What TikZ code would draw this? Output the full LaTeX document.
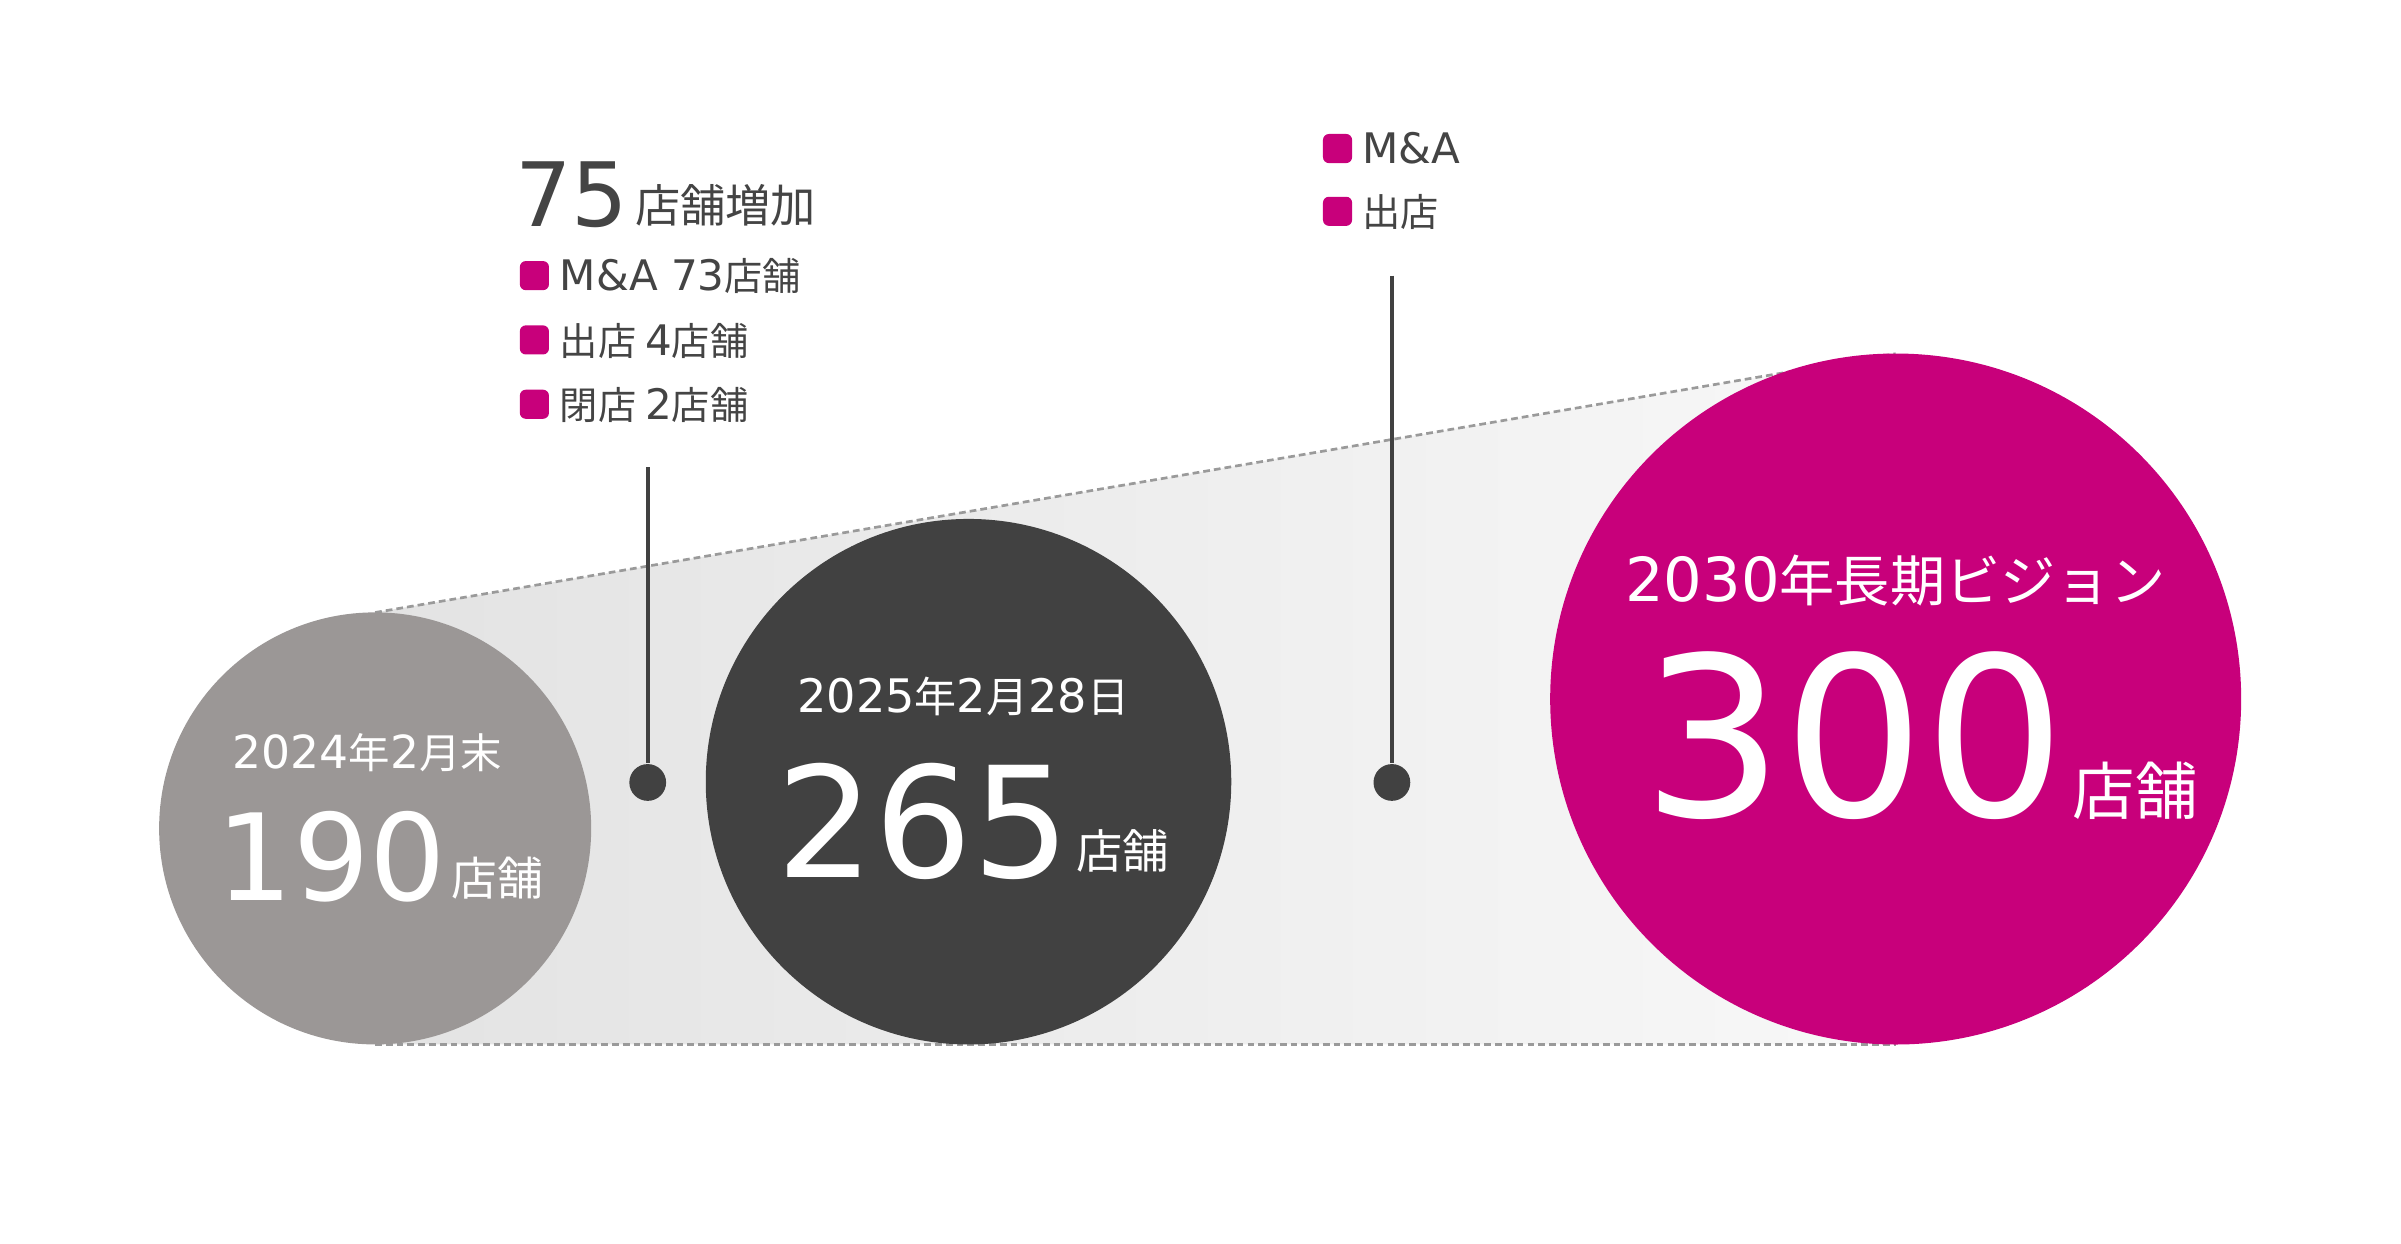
\documentclass[tikz,border=0pt]{standalone}
\usepackage{fontspec}
\setmainfont{Noto Sans CJK JP}
\newfontfamily\lat{DejaVu Sans}[Scale=1.1]
\usetikzlibrary{positioning}

\definecolor{shopgray}{HTML}{9B9796}
\definecolor{shopdark}{HTML}{414141}
\definecolor{shopmag}{HTML}{C8007B}
\definecolor{txtdark}{HTML}{444444}
\definecolor{dashgray}{HTML}{9A9A9A}
\definecolor{funnelL}{HTML}{E3E3E3}
\definecolor{funnelR}{HTML}{F8F8F8}

\begin{document}
\begin{tikzpicture}[x=0.01cm,y=-0.01cm,
    bubble/.style={circle,inner sep=0pt},
    wtext/.style={text=white,inner sep=0pt},
    dtext/.style={text=txtdark,inner sep=0pt},
    legbox/.style={fill=shopmag,rounded corners=1.1pt,minimum size=0.19cm,inner sep=0pt},
    pointer/.style={draw=shopdark,line width=0.75pt},
    pdot/.style={circle,fill=shopdark,minimum size=0.24cm,inner sep=0pt},
    guide/.style={draw=dashgray,line width=0.5pt,dash pattern=on 1.25pt off 0.75pt}]
  \useasboundingbox (0,0) rectangle (1568,812);

  % funnel behind the circles
  \coordinate (ftop1) at (245,400);
  \coordinate (ftop3) at (1238,231);
  \coordinate (fbot1) at (245,682);
  \coordinate (fbot3) at (1238,682);
  \shade[left color=funnelL,right color=funnelR] (ftop1) -- (ftop3) -- (fbot3) -- (fbot1) -- cycle;
  \draw[guide] (ftop1) -- (ftop3);
  \draw[guide] (fbot1) -- (fbot3);

  % pointers
  \coordinate (ptopA) at (423,305);
  \coordinate (ptopB) at (909,180);
  \node[pdot] (dotA) at (423,511) {};
  \node[pdot] (dotB) at (909,511) {};
  \draw[pointer] (ptopA) -- (dotA);
  \draw[pointer] (ptopB) -- (dotB);

  % circles
  \node[bubble,fill=shopgray,minimum size=2.82cm] (c2024) at (245,541) {};
  \node[bubble,fill=shopdark,minimum size=3.43cm] (c2025) at (632.5,510.5) {};
  \node[bubble,fill=shopmag,minimum size=4.51cm] (c2030) at (1238,456.5) {};

  \node[wtext,anchor=base,font=\fontsize{7.7}{9}\selectfont] (d2024) at (240,502) {{\lat 2024}年{\lat 2}月末};
  \node[wtext,anchor=base east,font=\fontsize{20.3}{21}\selectfont\lat] (n2024) at (292,588) {190};
  \node[wtext,anchor=base west,font=\fontsize{8.5}{9}\selectfont] (u2024) at (294,585) {店舗};

  \node[wtext,anchor=base,font=\fontsize{7.8}{9}\selectfont] (d2025) at (629,465) {{\lat 2025}年{\lat 2}月{\lat 28}日};
  \node[wtext,anchor=base east,font=\fontsize{26}{27}\selectfont\lat] (n2025) at (700,573) {265};
  \node[wtext,anchor=base west,font=\fontsize{8.6}{9}\selectfont] (u2025) at (702,567) {店舗};

  \node[wtext,anchor=base,font=\fontsize{10.25}{11}\selectfont] (d2030) at (1238,393) {{\lat 2030}年長期ビジョン};
  \node[wtext,anchor=base east,font=\fontsize{37.5}{38}\selectfont\lat] (n2030) at (1350,533) {300};
  \node[wtext,anchor=base west,font=\fontsize{11.6}{12}\selectfont] (u2030) at (1353,532) {店舗};

  % increase block
  \node[dtext,anchor=base east,font=\fontsize{15}{16}\selectfont\lat] (incnum) at (411,148) {75};
  \node[dtext,anchor=base west,font=\fontsize{8.4}{9}\selectfont] (incunit) at (414,145) {店舗増加};
  \foreach \t [count=\i] in {{\lat M\&A 73}店舗, 出店 {\lat 4}店舗, 閉店 {\lat 2}店舗} {
      \node[legbox] (boxA\i) at (349,138+42*\i) {};
      \node[dtext,anchor=base west,font=\fontsize{7.1}{8}\selectfont] (legA\i) at (365,148+42*\i) {\t};
  }
  % vision block
  \foreach \t [count=\i] in {{\lat M\&A}, 出店} {
      \node[legbox] (boxB\i) at (873.5,56+41*\i) {};
      \node[dtext,anchor=base west,font=\fontsize{7.1}{8}\selectfont] (legB\i) at (889,66+41*\i) {\t};
  }
\end{tikzpicture}
\end{document}
